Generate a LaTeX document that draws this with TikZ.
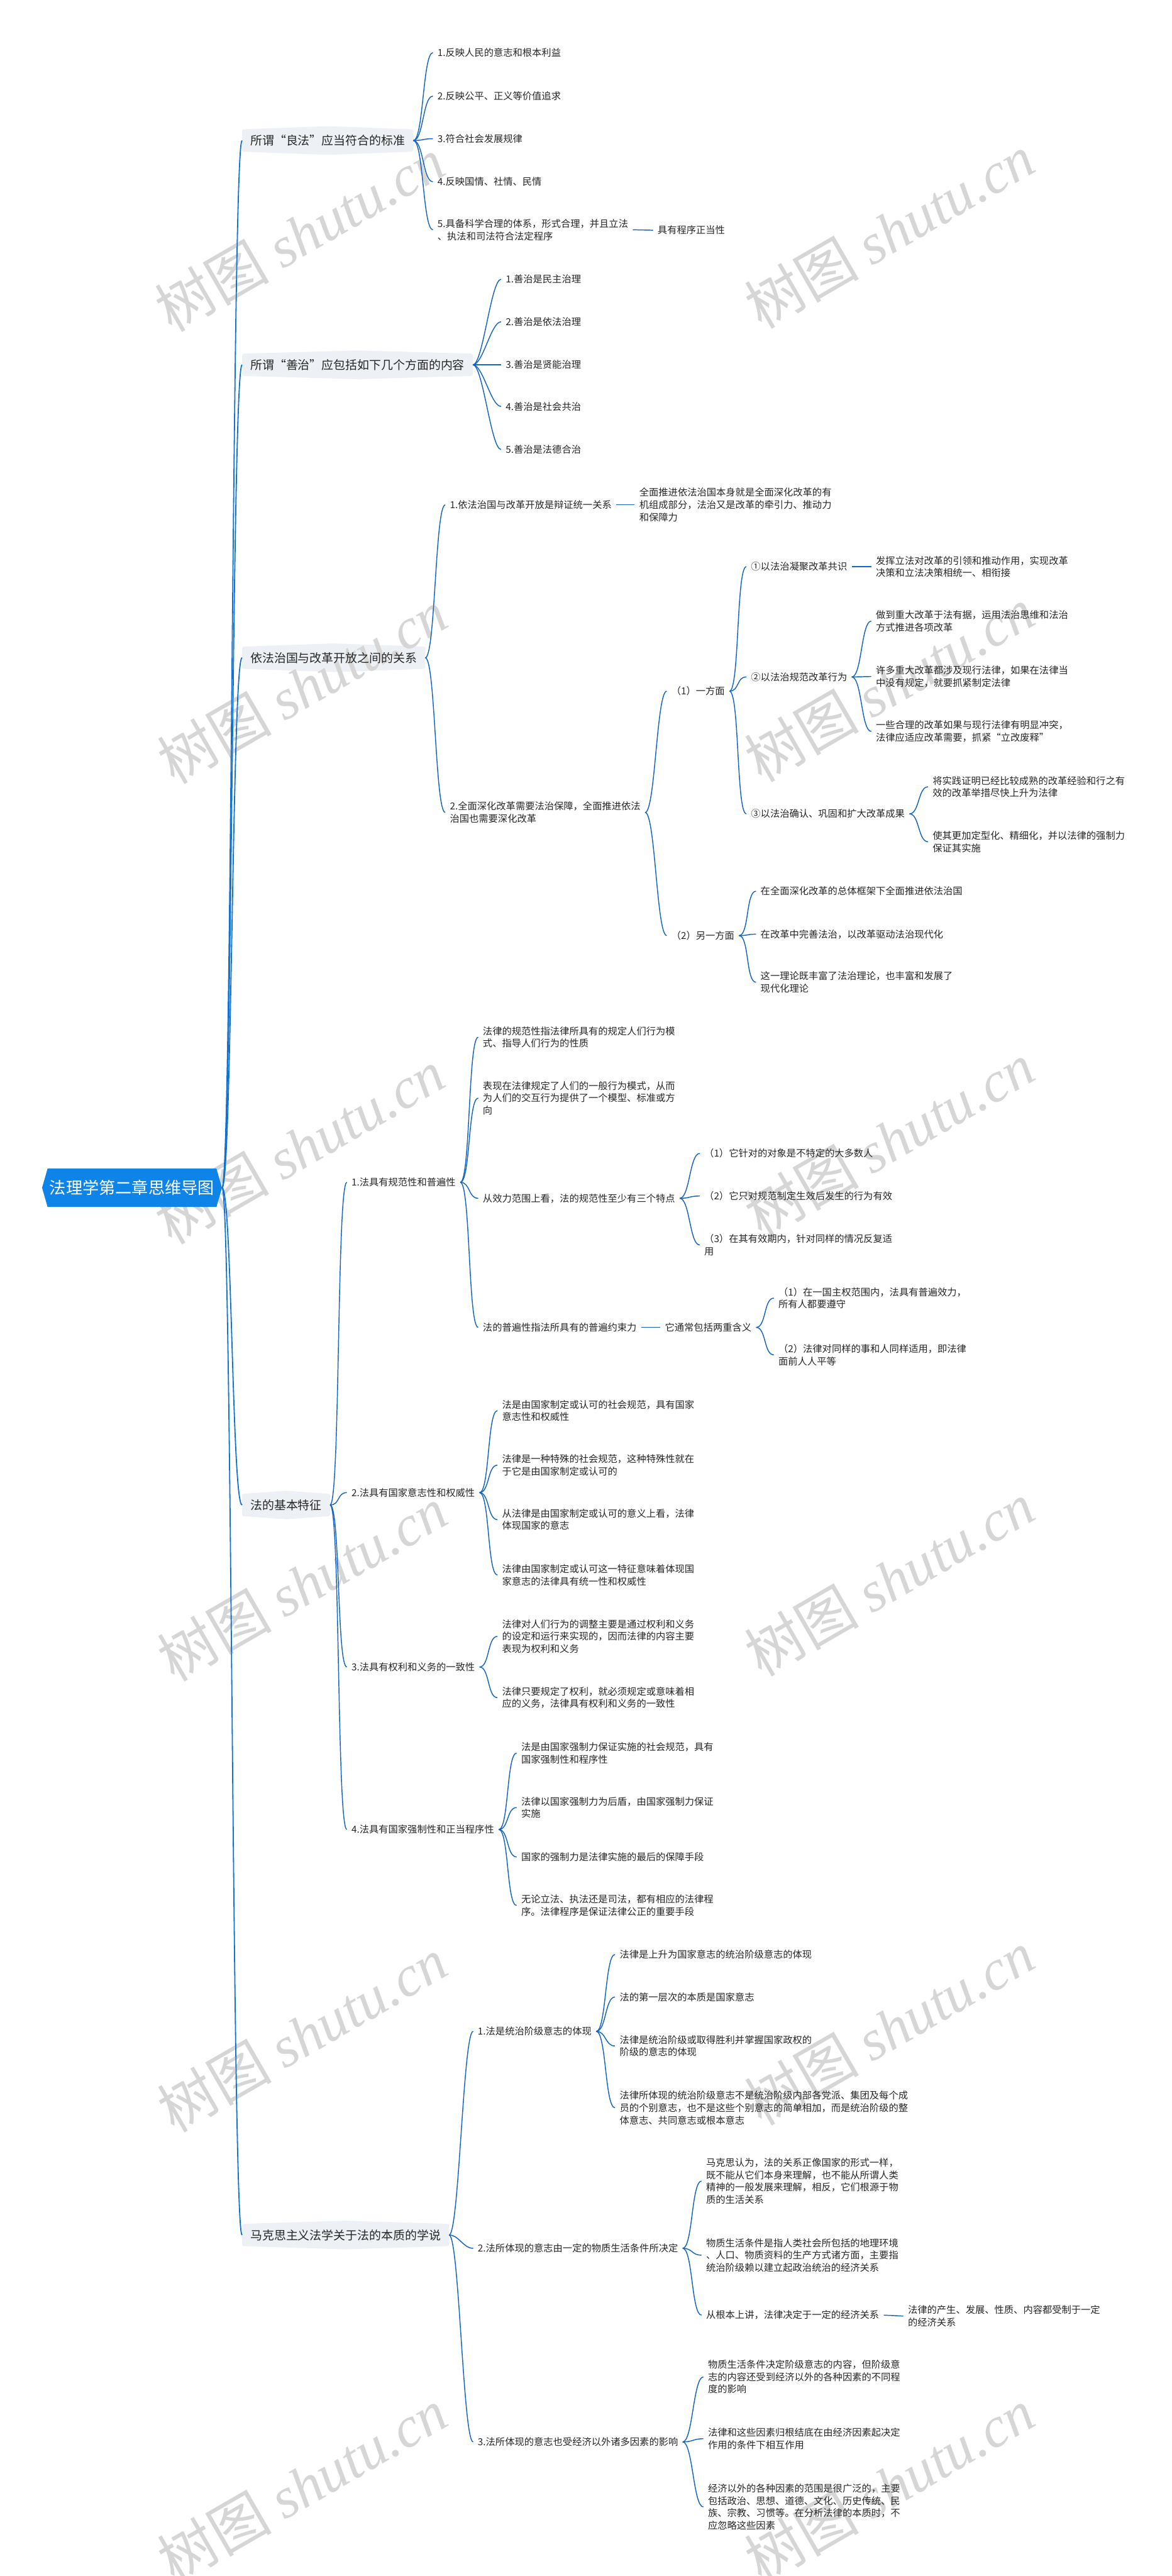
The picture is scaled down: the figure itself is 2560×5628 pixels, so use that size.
\documentclass[tikz,border=0pt]{standalone}
\usepackage{fontspec}
\setmainfont{Noto Sans CJK SC}
\newfontfamily\wmfont{Liberation Serif}
\usetikzlibrary{backgrounds,calc}
\definecolor{rootblue}{HTML}{0F84E8}
\definecolor{linkblue}{HTML}{1565C0}
\definecolor{trunkblue}{HTML}{1272D2}
\definecolor{boxgray}{HTML}{EDF1F5}
\definecolor{txt}{HTML}{262626}
\definecolor{wm}{HTML}{D6D6D6}
\tikzset{
  leaf/.style={anchor=west, inner xsep=10pt, inner ysep=3pt, align=left, font=\fontsize{21}{27}\selectfont, text=txt},
  topic/.style={anchor=west, inner xsep=18pt, inner ysep=12pt, font=\fontsize{26}{32}\selectfont, text=txt},
  rootnode/.style={minimum width=393pt, minimum height=84pt, inner sep=0pt, font=\fontsize{36}{40}\selectfont, text=white},
  link/.style={draw=linkblue, line width=2pt},
  trunk/.style={draw=trunkblue, line width=2.5pt},
  wmark/.style={rotate=30, font=\fontsize{125}{125}\selectfont, text=wm},
}
\newcommand\lk[2]{\draw[link] (#1.east) .. controls +(22,0) and +(-22,0) .. (#2.west);}
\newcommand\tk[2]{\draw[trunk] (#1.east) .. controls +(22,0) and +(-22,0) .. (#2.west);}
\newcommand\stl[2]{\draw[link] (#1.east) -- (#2.west);}
\newcommand\topicbg[1]{\fill[boxgray, rounded corners=4pt] (#1.north west) -- ($(#1.north)+(0,-7)$) -- (#1.north east) -- (#1.south east) -- ($(#1.south)+(0,7)$) -- (#1.south west) -- cycle;}
\begin{document}
\begin{tikzpicture}[x=1pt,y=-1pt]
\useasboundingbox (0,0) rectangle (2560,5628);
\begin{scope}[on background layer]
\fill[white] (0,0) rectangle (2560,5628);
\end{scope}
% watermarks
\foreach \wx/\wy [count=\i] in {655/512, 1943/505, 660/1500, 1943/1495, 655/2505, 1943/2490, 660/3460, 1943/3450, 660/4445, 1943/4430, 660/5430, 1943/5430}
  \node[wmark] (wm\i) at (\wx,\wy) {树图 {\wmfont\itshape shutu.cn}};

% root
\fill[rootblue] (92,2595) -- (104,2553) -- (473,2553) -- (485,2595) -- (473,2637) -- (104,2637) -- cycle;
\node[rootnode] (root) at (288.5,2595) {法理学第二章思维导图};

% topics
\node[topic] (t1) at (529,307) {所谓“良法”应当符合的标准};
\node[topic] (t2) at (529,797) {所谓“善治”应包括如下几个方面的内容};
\node[topic] (t3) at (529,1437) {依法治国与改革开放之间的关系};
\node[topic] (t4) at (529,3288) {法的基本特征};
\node[topic] (t5) at (529,4883) {马克思主义法学关于法的本质的学说};
\begin{scope}[on background layer]
\topicbg{t1}\topicbg{t2}\topicbg{t3}\topicbg{t4}\topicbg{t5}
\end{scope}
\tk{root}{t1}\tk{root}{t2}\tk{root}{t3}\tk{root}{t4}\tk{root}{t5}

% section 1
\node[leaf] (a1) at (946,115) {1.反映人民的意志和根本利益};
\node[leaf] (a2) at (946,210) {2.反映公平、正义等价值追求};
\node[leaf] (a3) at (946,303) {3.符合社会发展规律};
\node[leaf] (a4) at (946,397) {4.反映国情、社情、民情};
\node[leaf] (a5) at (946,502) {5.具备科学合理的体系，形式合理，并且立法\\、执法和司法符合法定程序};
\node[leaf] (a5a) at (1427,503) {具有程序正当性};
\lk{t1}{a1}\lk{t1}{a2}\lk{t1}{a3}\lk{t1}{a4}\lk{t1}{a5}
\stl{a5}{a5a}

% section 2
\node[leaf] (b1) at (1095,610) {1.善治是民主治理};
\node[leaf] (b2) at (1095,703) {2.善治是依法治理};
\node[leaf] (b3) at (1095,797) {3.善治是贤能治理};
\node[leaf] (b4) at (1095,888) {4.善治是社会共治};
\node[leaf] (b5) at (1095,982) {5.善治是法德合治};
\lk{t2}{b1}\lk{t2}{b2}\lk{t2}{b3}\lk{t2}{b4}\lk{t2}{b5}

% section 3
\node[leaf] (c1) at (973,1103) {1.依法治国与改革开放是辩证统一关系};
\node[leaf] (c1a) at (1387,1103) {全面推进依法治国本身就是全面深化改革的有\\机组成部分，法治又是改革的牵引力、推动力\\和保障力};
\node[leaf] (c2) at (973,1775) {2.全面深化改革需要法治保障，全面推进依法\\治国也需要深化改革};
\node[leaf] (d1) at (1457,1510) {（1）一方面};
\node[leaf] (d2) at (1457,2044) {（2）另一方面};
\node[leaf] (e1) at (1631,1238) {①以法治凝聚改革共识};
\node[leaf] (e1a) at (1904,1238) {发挥立法对改革的引领和推动作用，实现改革\\决策和立法决策相统一、相衔接};
\node[leaf] (e2) at (1631,1479) {②以法治规范改革行为};
\node[leaf] (e2a) at (1904,1357) {做到重大改革于法有据，运用法治思维和法治\\方式推进各项改革};
\node[leaf] (e2b) at (1904,1478) {许多重大改革都涉及现行法律，如果在法律当\\中没有规定，就要抓紧制定法律};
\node[leaf] (e2c) at (1904,1598) {一些合理的改革如果与现行法律有明显冲突，\\法律应适应改革需要，抓紧“立改废释”};
\node[leaf] (e3) at (1631,1778) {③以法治确认、巩固和扩大改革成果};
\node[leaf] (e3a) at (2028,1719) {将实践证明已经比较成熟的改革经验和行之有\\效的改革举措尽快上升为法律};
\node[leaf] (e3b) at (2028,1839) {使其更加定型化、精细化，并以法律的强制力\\保证其实施};
\node[leaf] (f1) at (1652,1947) {在全面深化改革的总体框架下全面推进依法治国};
\node[leaf] (f2) at (1652,2041) {在改革中完善法治，以改革驱动法治现代化};
\node[leaf] (f3) at (1652,2146) {这一理论既丰富了法治理论，也丰富和发展了\\现代化理论};
\lk{t3}{c1}\lk{t3}{c2}
\stl{c1}{c1a}
\lk{c2}{d1}\lk{c2}{d2}
\lk{d1}{e1}\lk{d1}{e2}\lk{d1}{e3}
\stl{e1}{e1a}
\lk{e2}{e2a}\lk{e2}{e2b}\lk{e2}{e2c}
\lk{e3}{e3a}\lk{e3}{e3b}
\lk{d2}{f1}\lk{d2}{f2}\lk{d2}{f3}

% section 4
\node[leaf] (g1) at (758,2583) {1.法具有规范性和普遍性};
\node[leaf] (g1a) at (1045,2266) {法律的规范性指法律所具有的规定人们行为模\\式、指导人们行为的性质};
\node[leaf] (g1b) at (1045,2399) {表现在法律规定了人们的一般行为模式，从而\\为人们的交互行为提供了一个模型、标准或方\\向};
\node[leaf] (g1c) at (1045,2618) {从效力范围上看，法的规范性至少有三个特点};
\node[leaf] (h1) at (1529,2520) {（1）它针对的对象是不特定的大多数人};
\node[leaf] (h2) at (1529,2613) {（2）它只对规范制定生效后发生的行为有效};
\node[leaf] (h3) at (1529,2720) {（3）在其有效期内，针对同样的情况反复适\\用};
\node[leaf] (g1d) at (1045,2900) {法的普遍性指法所具有的普遍约束力};
\node[leaf] (i0) at (1443,2900) {它通常包括两重含义};
\node[leaf] (i1) at (1691,2836) {（1）在一国主权范围内，法具有普遍效力，\\所有人都要遵守};
\node[leaf] (i2) at (1691,2960) {（2）法律对同样的事和人同样适用，即法律\\面前人人平等};
\node[leaf] (g2) at (758,3261) {2.法具有国家意志性和权威性};
\node[leaf] (j1) at (1087,3082) {法是由国家制定或认可的社会规范，具有国家\\意志性和权威性};
\node[leaf] (j2) at (1087,3201) {法律是一种特殊的社会规范，这种特殊性就在\\于它是由国家制定或认可的};
\node[leaf] (j3) at (1087,3320) {从法律是由国家制定或认可的意义上看，法律\\体现国家的意志};
\node[leaf] (j4) at (1087,3441) {法律由国家制定或认可这一特征意味着体现国\\家意志的法律具有统一性和权威性};
\node[leaf] (g3) at (758,3642) {3.法具有权利和义务的一致性};
\node[leaf] (k1) at (1087,3575) {法律对人们行为的调整主要是通过权利和义务\\的设定和运行来实现的，因而法律的内容主要\\表现为权利和义务};
\node[leaf] (k2) at (1087,3709) {法律只要规定了权利，就必须规定或意味着相\\应的义务，法律具有权利和义务的一致性};
\node[leaf] (g4) at (758,3997) {4.法具有国家强制性和正当程序性};
\node[leaf] (l1) at (1129,3830) {法是由国家强制力保证实施的社会规范，具有\\国家强制性和程序性};
\node[leaf] (l2) at (1129,3949) {法律以国家强制力为后盾，由国家强制力保证\\实施};
\node[leaf] (l3) at (1129,4057) {国家的强制力是法律实施的最后的保障手段};
\node[leaf] (l4) at (1129,4163) {无论立法、执法还是司法，都有相应的法律程\\序。法律程序是保证法律公正的重要手段};
\lk{t4}{g1}\lk{t4}{g2}\lk{t4}{g3}\lk{t4}{g4}
\lk{g1}{g1a}\lk{g1}{g1b}\lk{g1}{g1c}\lk{g1}{g1d}
\lk{g1c}{h1}\lk{g1c}{h2}\lk{g1c}{h3}
\stl{g1d}{i0}
\lk{i0}{i1}\lk{i0}{i2}
\lk{g2}{j1}\lk{g2}{j2}\lk{g2}{j3}\lk{g2}{j4}
\lk{g3}{k1}\lk{g3}{k2}
\lk{g4}{l1}\lk{g4}{l2}\lk{g4}{l3}\lk{g4}{l4}

% section 5
\node[leaf] (m1) at (1034,4438) {1.法是统治阶级意志的体现};
\node[leaf] (n1) at (1344,4270) {法律是上升为国家意志的统治阶级意志的体现};
\node[leaf] (n2) at (1344,4363) {法的第一层次的本质是国家意志};
\node[leaf] (n3) at (1344,4470) {法律是统治阶级或取得胜利并掌握国家政权的\\阶级的意志的体现};
\node[leaf] (n4) at (1344,4605) {法律所体现的统治阶级意志不是统治阶级内部各党派、集团及每个成\\员的个别意志，也不是这些个别意志的简单相加，而是统治阶级的整\\体意志、共同意志或根本意志};
\node[leaf] (m2) at (1034,4912) {2.法所体现的意志由一定的物质生活条件所决定};
\node[leaf] (o1) at (1533,4765) {马克思认为，法的关系正像国家的形式一样，\\既不能从它们本身来理解，也不能从所谓人类\\精神的一般发展来理解，相反，它们根源于物\\质的生活关系};
\node[leaf] (o2) at (1533,4927) {物质生活条件是指人类社会所包括的地理环境\\、人口、物质资料的生产方式诸方面，主要指\\统治阶级赖以建立起政治统治的经济关系};
\node[leaf] (o3) at (1533,5058) {从根本上讲，法律决定于一定的经济关系};
\node[leaf] (o3a) at (1974,5060) {法律的产生、发展、性质、内容都受制于一定\\的经济关系};
\node[leaf] (m3) at (1034,5335) {3.法所体现的意志也受经济以外诸多因素的影响};
\node[leaf] (p1) at (1537,5193) {物质生活条件决定阶级意志的内容，但阶级意\\志的内容还受到经济以外的各种因素的不同程\\度的影响};
\node[leaf] (p2) at (1537,5328) {法律和这些因素归根结底在由经济因素起决定\\作用的条件下相互作用};
\node[leaf] (p3) at (1537,5477) {经济以外的各种因素的范围是很广泛的，主要\\包括政治、思想、道德、文化、历史传统、民\\族、宗教、习惯等。在分析法律的本质时，不\\应忽略这些因素};
\lk{t5}{m1}\lk{t5}{m2}\lk{t5}{m3}
\lk{m1}{n1}\lk{m1}{n2}\lk{m1}{n3}\lk{m1}{n4}
\lk{m2}{o1}\lk{m2}{o2}\lk{m2}{o3}
\stl{o3}{o3a}
\lk{m3}{p1}\lk{m3}{p2}\lk{m3}{p3}
\end{tikzpicture}
\end{document}
